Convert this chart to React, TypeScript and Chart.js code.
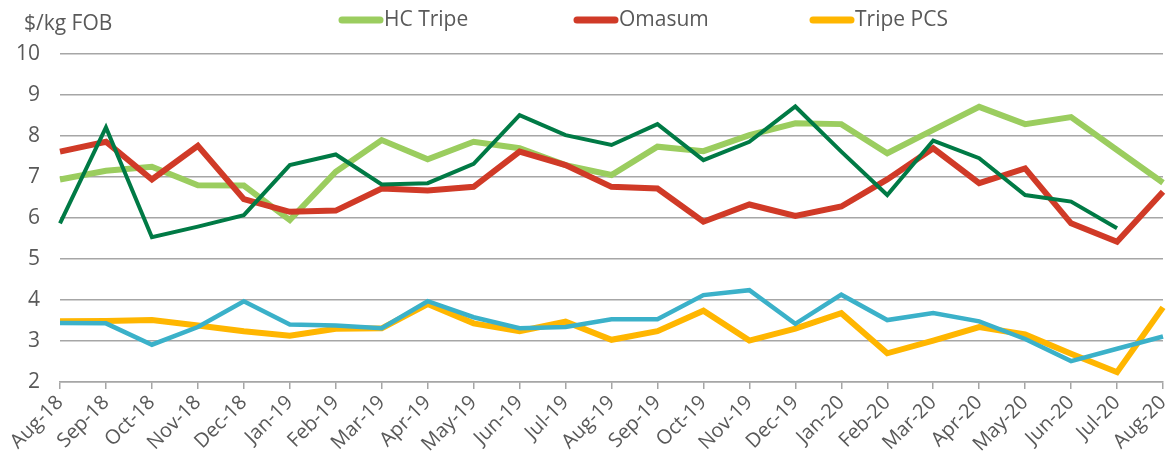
import React, { useEffect, useRef } from "react";
import { Chart, registerables } from "chart.js";

Chart.register(...registerables);

const months = [
  "Aug-18", "Sep-18", "Oct-18", "Nov-18", "Dec-18", "Jan-19", "Feb-19", "Mar-19", "Apr-19",
  "May-19", "Jun-19", "Jul-19", "Aug-19", "Sep-19", "Oct-19", "Nov-19", "Dec-19", "Jan-20",
  "Feb-20", "Mar-20", "Apr-20", "May-20", "Jun-20", "Jul-20", "Aug-20",
];

const hcTripe = [6.94, 7.15, 7.25, 6.8, 6.79, 5.95, 7.13, 7.9, 7.43, 7.86, 7.7, 7.29, 7.05, 7.74, 7.63, 8.02, 8.31, 8.29, 7.58, 8.15, 8.71, 8.29, 8.46, 7.66, 6.86];
const omasum = [7.62, 7.86, 6.94, 7.76, 6.46, 6.15, 6.18, 6.72, 6.67, 6.76, 7.62, 7.29, 6.76, 6.72, 5.91, 6.33, 6.05, 6.28, 6.94, 7.7, 6.85, 7.21, 5.87, 5.42, 6.64];
const tripePcs = [3.48, 3.49, 3.51, 3.38, 3.24, 3.13, 3.3, 3.31, 3.9, 3.43, 3.24, 3.47, 3.03, 3.24, 3.74, 3.01, 3.3, 3.68, 2.7, 3.01, 3.34, 3.16, 2.69, 2.24, 3.82];
const darkSeries = [5.87, 8.21, 5.53, 5.79, 6.07, 7.29, 7.55, 6.82, 6.85, 7.32, 8.51, 8.02, 7.78, 8.29, 7.41, 7.86, 8.72, 7.62, 6.56, 7.89, 7.46, 6.56, 6.4, 5.75, null];
const tealSeries = [3.44, 3.43, 2.91, 3.34, 3.97, 3.4, 3.38, 3.31, 3.97, 3.58, 3.31, 3.34, 3.53, 3.53, 4.12, 4.24, 3.42, 4.13, 3.51, 3.68, 3.48, 3.05, 2.51, 2.81, 3.11];

const yMin = 2;
const yMax = 10;
const yStep = 1;
const yUnit = "$/kg FOB";

const legendNames = ["HC Tripe", "Omasum", "Tripe PCS"];
const legendColors = ["#9BCD5F", "#D03A27", "#FFB600"];

const FONT = "'Open Sans', sans-serif";
const TEXT = "#595959";

const overlayPlugin = {
  id: "overlay",
  afterDraw(chart: any) {
    const ctx = chart.ctx;
    ctx.save();
    ctx.fillStyle = TEXT;
    ctx.font = `21px ${FONT}`;
    ctx.textBaseline = "middle";
    ctx.textAlign = "left";
    ctx.fillText(yUnit, 24, 24);
    const starts = [339, 574, 810];
    legendNames.forEach((name, i) => {
      const x = starts[i];
      const y = 20;
      ctx.strokeStyle = legendColors[i];
      ctx.lineWidth = 7;
      ctx.lineCap = "round";
      ctx.beginPath();
      ctx.moveTo(x + 3, y);
      ctx.lineTo(x + 41, y);
      ctx.stroke();
      ctx.fillStyle = TEXT;
      ctx.fillText(name, x + 45, y);
    });
    ctx.restore();
  },
};

export default function App() {
  const ref = useRef<HTMLCanvasElement | null>(null);
  useEffect(() => {
    document.body.style.margin = "0";
    const canvas = ref.current!;
    const chart = new Chart(canvas, {
      type: "line",
      data: {
        labels: months,
        datasets: [
          { label: legendNames[0], data: hcTripe, borderColor: legendColors[0], borderWidth: 6, order: 5 },
          { label: legendNames[1], data: omasum, borderColor: legendColors[1], borderWidth: 6, order: 4 },
          { label: legendNames[2], data: tripePcs, borderColor: legendColors[2], borderWidth: 6, order: 3 },
          { label: "Series 4", data: darkSeries, borderColor: "#007A45", borderWidth: 4, order: 2 },
          { label: "Series 5", data: tealSeries, borderColor: "#3BB1C9", borderWidth: 4.5, order: 1 },
        ] as any,
      },
      options: {
        animation: false,
        responsive: false,
        maintainAspectRatio: false,
        layout: { padding: { top: 54, right: 3, left: 0, bottom: 0 } },
        elements: {
          point: { radius: 0, hoverRadius: 0 },
          line: { tension: 0, borderJoinStyle: "miter", borderCapStyle: "butt" },
        },
        plugins: {
          legend: { display: false },
          tooltip: { enabled: false },
          title: { display: false },
        },
        scales: {
          x: {
            offset: false,
            grid: { display: true, drawOnChartArea: false, drawTicks: true, tickLength: 7, color: "#A6A6A6", lineWidth: 1.5 },
            border: { display: true, color: "#A6A6A6", width: 1.5 },
            ticks: { minRotation: 45, maxRotation: 45, autoSkip: false, color: TEXT, font: { family: FONT, size: 20 }, padding: 2 },
            afterFit(scale: any) {
              scale.height = 77;
              scale.paddingRight = 0;
              scale.paddingLeft = 0;
            },
          },
          y: {
            min: yMin,
            max: yMax,
            grid: { color: "#A6A6A6", lineWidth: 1.5, drawTicks: false },
            border: { display: false },
            ticks: { stepSize: yStep, color: TEXT, font: { family: FONT, size: 21 }, padding: 20 },
            afterFit(scale: any) {
              scale.width = 60;
              scale.paddingTop = 0;
              scale.paddingBottom = 0;
            },
          },
        },
      },
      plugins: [overlayPlugin],
    });
    return () => chart.destroy();
  }, []);
  return (
    <div style={{ position: "absolute", left: 0, top: 0, width: 1166, height: 459 }}>
      <canvas ref={ref} width={1166} height={459} style={{ width: 1166, height: 459, display: "block" }} />
    </div>
  );
}
